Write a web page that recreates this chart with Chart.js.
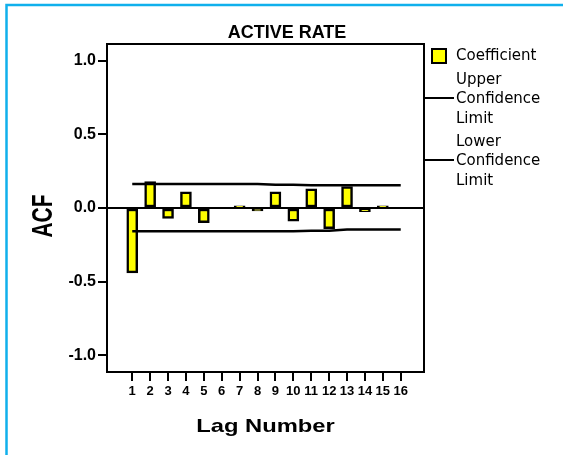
<!DOCTYPE html>
<html>
<head>
<meta charset="utf-8">
<script src="https://cdn.jsdelivr.net/npm/chart.js@4.4.1/dist/chart.umd.min.js"></script>
<style>
  html, body { margin: 0; padding: 0; background: #fff; }
  #wrap { width: 563px; height: 455px; position: relative; }
</style>
</head>
<body>
<div id="wrap"><canvas id="acf"></canvas></div>
<script>
// ACF of ACTIVE RATE, lags 1..16
const lags = [1, 2, 3, 4, 5, 6, 7, 8, 9, 10, 11, 12, 13, 14, 15, 16];
const coefficient = [-0.44, 0.18, -0.07, 0.11, -0.10, 0.0, 0.015, -0.02, 0.11, -0.09, 0.13, -0.14, 0.145, -0.025, 0.015, 0.0];
const upperLimit = [0.163, 0.163, 0.163, 0.163, 0.163, 0.163, 0.163, 0.163, 0.158, 0.158, 0.154, 0.154, 0.154, 0.154, 0.154, 0.154];
const lowerLimit = [-0.158, -0.158, -0.158, -0.158, -0.158, -0.158, -0.158, -0.158, -0.158, -0.158, -0.154, -0.154, -0.146, -0.146, -0.146, -0.146];
const yTicks = [-1.0, -0.5, 0.0, 0.5, 1.0];
const seriesNames = ['Coefficient', 'Upper Confidence Limit', 'Lower Confidence Limit'];

const toPoints = (vals) => vals.map((v, i) => ({ x: lags[i], y: v }));

// frame, plot box, zero line, titles and legend
const decorations = {
  id: 'decorations',
  beforeDraw(chart) {
    const ctx = chart.ctx;
    ctx.save();
    ctx.fillStyle = '#fff';
    ctx.fillRect(0, 0, chart.width, chart.height);
    ctx.strokeStyle = '#10b0ec';
    ctx.lineWidth = 2.5;
    ctx.beginPath();
    ctx.moveTo(6.5, chart.height);
    ctx.lineTo(6.5, 5);
    ctx.lineTo(chart.width, 5);
    ctx.stroke();
    ctx.restore();
  },
  beforeDatasetsDraw(chart) {
    const ctx = chart.ctx;
    const a = chart.chartArea;
    const y0 = chart.scales.y.getPixelForValue(0);
    ctx.save();
    ctx.strokeStyle = '#000';
    ctx.lineWidth = 2;
    ctx.beginPath();
    ctx.moveTo(a.left, y0);
    ctx.lineTo(a.right, y0);
    ctx.stroke();
    ctx.restore();
  },
  afterDraw(chart) {
    const ctx = chart.ctx;
    const a = chart.chartArea;
    ctx.save();
    ctx.strokeStyle = '#000';
    ctx.lineWidth = 2;
    ctx.strokeRect(a.left, a.top, a.right - a.left, a.bottom - a.top);

    ctx.fillStyle = '#000';
    ctx.textAlign = 'center';
    ctx.textBaseline = 'alphabetic';
    ctx.font = 'bold 18px "Liberation Sans", Arial, sans-serif';
    ctx.fillText('ACTIVE RATE', 287, 38);

    ctx.save();
    ctx.translate((a.left + a.right) / 2, 432);
    ctx.scale(1.25, 1);
    ctx.font = 'bold 19px "Liberation Sans", Arial, sans-serif';
    ctx.fillText('Lag Number', 0, 0);
    ctx.restore();

    ctx.save();
    ctx.translate(52, 216);
    ctx.rotate(-Math.PI / 2);
    ctx.scale(0.7, 1);
    ctx.font = 'bold 30px "Liberation Sans", Arial, sans-serif';
    ctx.fillText('ACF', 0, 0);
    ctx.restore();

    // legend
    ctx.lineWidth = 2;
    ctx.fillStyle = '#ffff00';
    ctx.fillRect(432, 49, 14, 14);
    ctx.strokeRect(432, 49, 14, 14);
    ctx.fillStyle = '#000';
    ctx.textAlign = 'left';
    ctx.textBaseline = 'middle';
    ctx.font = '15px "DejaVu Sans", sans-serif';
    ctx.fillText(seriesNames[0], 456, 56);

    const blocks = [[seriesNames[1], 80, 98], [seriesNames[2], 142, 160]];
    blocks.forEach(([name, yText, yLine]) => {
      name.split(' ').forEach((w, i) => ctx.fillText(w, 456, yText + i * 19.5));
      ctx.beginPath();
      ctx.moveTo(a.right, yLine);
      ctx.lineTo(454, yLine);
      ctx.stroke();
    });
    ctx.restore();
  }
};

new Chart(document.getElementById('acf'), {
  type: 'bar',
  data: {
    datasets: [
      {
        type: 'line',
        label: seriesNames[1],
        data: toPoints(upperLimit),
        borderColor: '#000',
        borderWidth: 2.5,
        pointRadius: 0,
        tension: 0,
        order: 0
      },
      {
        type: 'line',
        label: seriesNames[2],
        data: toPoints(lowerLimit),
        borderColor: '#000',
        borderWidth: 2.5,
        pointRadius: 0,
        tension: 0,
        order: 0
      },
      {
        label: seriesNames[0],
        data: toPoints(coefficient),
        backgroundColor: '#ffff00',
        borderColor: '#000',
        borderWidth: 2.5,
        borderSkipped: false,
        barThickness: 11,
        order: 1
      }
    ]
  },
  options: {
    responsive: true,
    maintainAspectRatio: false,
    animation: false,
    layout: { padding: { top: 44, right: 139, bottom: 0, left: 0 } },
    plugins: {
      legend: { display: false },
      title: { display: false },
      tooltip: { enabled: false }
    },
    scales: {
      x: {
        type: 'linear',
        offset: false,
        min: -0.41,
        max: 17.3,
        afterBuildTicks: (axis) => { axis.ticks = lags.map(v => ({ value: v })); },
        afterFit: (axis) => { axis.height = 83; },
        border: { display: false },
        grid: { offset: false, drawOnChartArea: false, drawTicks: true, tickLength: 9, color: '#000', lineWidth: 2 },
        ticks: {
          color: '#000',
          padding: 3,
          maxRotation: 0,
          autoSkip: false,
          font: { family: '"Liberation Sans", Arial, sans-serif', size: 13, weight: 'bold' }
        }
      },
      y: {
        min: -1.113,
        max: 1.113,
        afterBuildTicks: (axis) => { axis.ticks = yTicks.map(v => ({ value: v })); },
        afterFit: (axis) => { axis.width = 107; },
        border: { display: false },
        grid: { drawOnChartArea: false, drawTicks: true, tickLength: 9, color: '#000', lineWidth: 2 },
        ticks: {
          color: '#000',
          padding: 2,
          callback: (v) => v.toFixed(1),
          font: { family: '"Liberation Sans", Arial, sans-serif', size: 16, weight: 'bold' }
        }
      }
    }
  },
  plugins: [decorations]
});
</script>
</body>
</html>
